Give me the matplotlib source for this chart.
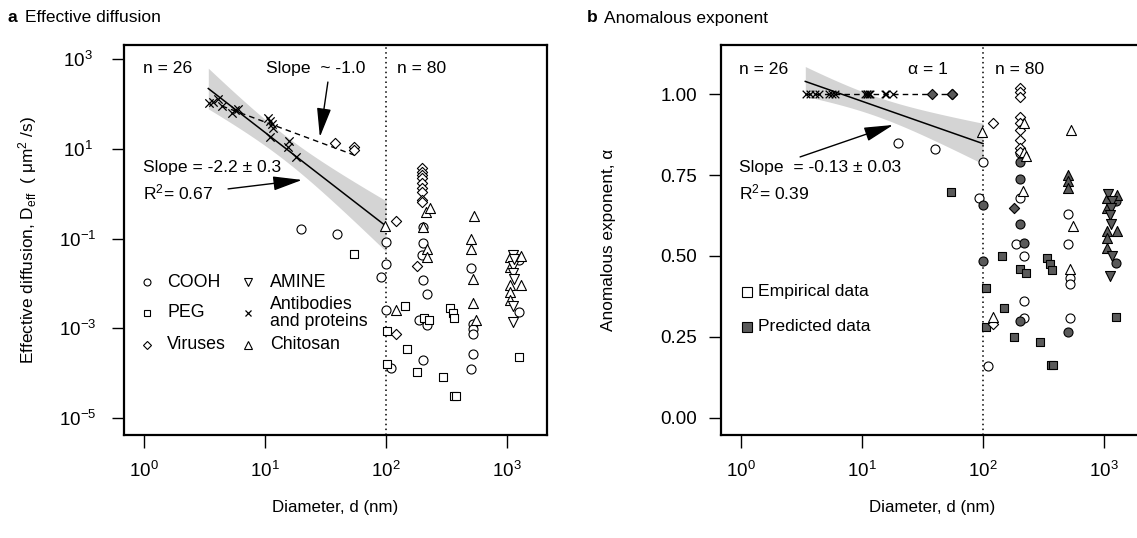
import numpy as np
import matplotlib
matplotlib.use('Agg')
import matplotlib.pyplot as plt
from matplotlib.ticker import FixedLocator, NullLocator

plt.rcParams['font.family'] = ['Liberation Sans', 'DejaVu Sans']
plt.rcParams['mathtext.fontset'] = 'custom'
plt.rcParams['mathtext.rm'] = 'Liberation Sans'
plt.rcParams['mathtext.it'] = 'Liberation Sans:italic'
plt.rcParams['mathtext.bf'] = 'Liberation Sans:bold'

# ---------------- panel a: effective diffusion (d in nm, D in um^2/s) ----------------
cooh_d = [19.9, 39.7, 100, 100, 91, 100, 109, 201, 201, 197, 201, 217, 188, 217, 201,
          501, 521, 521, 521, 521, 501, 1265, 1265]
cooh_D = [0.161, 0.126, 0.0849, 0.0269, 0.0136, 0.00252, 0.000130, 0.184, 0.0805, 0.0428,
          0.0118, 0.00575, 0.00156, 0.00117, 0.000200, 0.0227, 0.00123, 0.000984, 0.000762,
          0.000272, 0.000126, 0.0331, 0.00231]

peg_d = [54.4, 144.5, 102.5, 102.5, 148, 206, 225, 181, 338, 360, 367, 294, 367, 377, 1265]
peg_D = [0.0457, 0.00315, 0.000857, 0.000163, 0.000352, 0.00173, 0.00156, 0.000104, 0.00290,
         0.00220, 0.00170, 0.0000817, 0.0000313, 0.0000313, 0.000229]

virus_d = [37.9, 54.4, 54.4, 120, 120, 197, 197, 197, 197, 197, 197, 197, 197, 197, 181]
virus_D = [13.8, 11.2, 9.5, 0.250, 0.000762, 3.71, 3.11, 2.62, 2.21, 1.71, 1.32, 1.11, 0.724,
           0.664, 0.0243]

chito_d = [98, 121, 214, 231, 201, 219, 217, 534, 501, 501, 521, 521, 554,
           1059, 1297, 1059, 1059, 1297, 1059, 1059]
chito_D = [0.190, 0.00252, 0.397, 0.472, 0.184, 0.0574, 0.0380, 0.318, 0.0991, 0.0574, 0.0129,
           0.00367, 0.00151, 0.0393, 0.0406, 0.0234, 0.00914, 0.00914, 0.00647, 0.00423]

amine_d = [1114, 1114, 1114, 1143, 1114, 1114, 1143]
amine_D = [0.0428, 0.0243, 0.0167, 0.0123, 0.00310, 0.00138, 0.0355]

anti_d = [3.47, 3.74, 4.11, 4.39, 5.31, 5.65, 6.01, 10.6, 10.9, 11.4, 11.6, 11.0, 15.9, 15.6, 18.0]
anti_D = [105, 111, 131, 92.9, 62.8, 74.5, 78.3, 48.5, 42.3, 35.6, 29.9, 18.8, 15.1, 11.2, 6.73]

# fit for d < 100 nm (log10 D = a + b log10 d), confidence band shape
fit_a_D, fit_b_D = 3.46, -2.09
band_D = (0.28, 0.577, 1.15)        # half-width: sqrt(c0^2 + c1^2 (x - xm)^2), decades
slope1_a, slope1_b = 2.602, -1.0    # dashed "slope ~ -1" line
slope1_range = (4.4, 55)
fit_range = (3.4, 100)

# ---------------- panel b: anomalous exponent ----------------
cooh_emp_d = [20, 40, 100, 92, 109, 203, 201, 188, 219, 219, 219, 506, 506, 519, 519, 519]
cooh_emp_a = [0.850, 0.830, 0.790, 0.679, 0.158, 0.818, 0.679, 0.537, 0.499, 0.359, 0.308,
              0.628, 0.537, 0.431, 0.412, 0.308]
cooh_pre_d = [100, 100, 201, 201, 201, 219, 201, 506, 1259, 1259]
cooh_pre_a = [0.658, 0.484, 0.790, 0.738, 0.597, 0.540, 0.299, 0.263, 0.669, 0.479]

peg_pre_d = [54, 105, 148, 105, 144, 203, 228, 181, 338, 359, 371, 293, 367, 378, 1259]
peg_pre_a = [0.696, 0.402, 0.340, 0.281, 0.499, 0.458, 0.448, 0.248, 0.492, 0.474, 0.455,
             0.233, 0.161, 0.161, 0.310]

virus_emp_d = [121, 121, 201, 201, 201, 201, 201, 201, 201, 201, 201]
virus_emp_a = [0.910, 0.289, 1.019, 1.007, 0.992, 0.930, 0.910, 0.889, 0.858, 0.835, 0.822]
virus_pre_d = [38, 55, 55, 181]
virus_pre_a = [1.0, 1.0, 1.0, 0.648]

chito_emp_d = [98, 122, 217, 219, 228, 214, 533, 553, 519]
chito_emp_a = [0.882, 0.312, 0.910, 0.822, 0.810, 0.702, 0.889, 0.592, 0.458]
chito_pre_d = [506, 506, 506, 1275, 1067, 1067, 1067, 1275, 1067, 1067]
chito_pre_a = [0.751, 0.732, 0.710, 0.689, 0.679, 0.648, 0.576, 0.578, 0.554, 0.525]

amine_pre_d = [1087, 1159, 1137, 1122, 1137, 1159, 1122]
amine_pre_a = [0.691, 0.671, 0.648, 0.626, 0.599, 0.499, 0.438]

anti_a = [1.0] * len(anti_d)

fit_a_alpha, fit_b_alpha = 1.109, -0.131
band_alpha = (0.03, 0.0614, 1.1)
alpha1_range = (3.4, 55)

GRAY = '#5a5a5a'
EW = 0.8
TXT = 12.6


def style_axes(ax):
    ax.set_xscale('log')
    ax.set_xlim(10 ** -0.165, 10 ** 3.33)
    ax.xaxis.set_major_locator(FixedLocator([1, 10, 100, 1000]))
    ax.xaxis.set_minor_locator(NullLocator())
    ax.set_xticklabels(['$10^{0}$', '$10^{1}$', '$10^{2}$', '$10^{3}$'])
    for s in ax.spines.values():
        s.set_linewidth(1.6)
    ax.tick_params(axis='both', length=9, width=1.0, labelsize=13.5, direction='out')
    ax.tick_params(axis='x', pad=10)
    ax.set_xlabel('Diameter, d (nm)', fontsize=12.2, labelpad=13)
    ax.axvline(100, color='k', ls=(0, (1, 2.2)), lw=1.1, zorder=2)


def pts(ax, d, v, marker, ms, filled=False):
    if marker == 'x':
        ax.scatter(d, v, marker='x', s=ms ** 2, c='k', linewidths=0.9, zorder=4)
    else:
        ax.scatter(d, v, marker=marker, s=ms ** 2, facecolors=GRAY if filled else 'white',
                   edgecolors='k', linewidths=EW, zorder=3)


fig = plt.figure(figsize=(11.37, 5.38), dpi=100)
ax1 = fig.add_axes([124 / 1137, 1 - 435 / 538, 423 / 1137, 390 / 538])
ax2 = fig.add_axes([721 / 1137, 1 - 435 / 538, 423 / 1137, 390 / 538])

# ---------------- panel a ----------------
style_axes(ax1)
ax1.set_yscale('log')
ax1.set_ylim(10 ** -5.38, 10 ** 3.32)
ax1.yaxis.set_major_locator(FixedLocator([1e3, 1e1, 1e-1, 1e-3, 1e-5]))
ax1.yaxis.set_minor_locator(NullLocator())
ax1.set_yticklabels(['$10^{3}$', '$10^{1}$', '$10^{-1}$', '$10^{-3}$', '$10^{-5}$'])
ax1.tick_params(axis='y', pad=24)
for lab in ax1.get_yticklabels():
    lab.set_ha('center')
ax1.set_ylabel(r'Effective diffusion, D$_{\mathrm{eff}}$  ( μm$^{2}$ /s)', fontsize=12.4,
               labelpad=15)

lx = np.linspace(np.log10(fit_range[0]), np.log10(fit_range[1]), 60)
hw = np.sqrt(band_D[0] ** 2 + band_D[1] ** 2 * (lx - band_D[2]) ** 2)
mid = fit_a_D + fit_b_D * lx
ax1.fill_between(10 ** lx, 10 ** (mid - hw), 10 ** (mid + hw), color='#d4d4d4', lw=0, zorder=1)
ax1.plot(10 ** lx, 10 ** mid, color='k', lw=1.1, zorder=2)
sx = np.log10(np.array(slope1_range))
ax1.plot(10 ** sx, 10 ** (slope1_a + slope1_b * sx), color='k', lw=1.0, ls=(0, (4, 3)), zorder=2)

pts(ax1, cooh_d, cooh_D, 'o', 6.5)
pts(ax1, peg_d, peg_D, 's', 5.6)
pts(ax1, virus_d, virus_D, 'D', 5.2)
pts(ax1, chito_d, chito_D, '^', 7.2)
pts(ax1, amine_d, amine_D, 'v', 7.2)
pts(ax1, anti_d, anti_D, 'x', 6.0)

ax1.text(0.045, 0.941, 'n = 26', transform=ax1.transAxes, fontsize=TXT, va='center')
ax1.text(0.645, 0.941, 'n = 80', transform=ax1.transAxes, fontsize=TXT, va='center')
ax1.text(0.336, 0.941, 'Slope  ~ -1.0', transform=ax1.transAxes, fontsize=TXT, va='center')
ax1.text(0.045, 0.685, 'Slope = -2.2 ± 0.3', transform=ax1.transAxes, fontsize=TXT, va='center')
ax1.text(0.045, 0.621, 'R$^{2}$= 0.67', transform=ax1.transAxes, fontsize=TXT, va='center')
arrow = dict(arrowstyle='-|>,head_length=0.9,head_width=0.22', color='k', lw=1.0,
             mutation_scale=20, shrinkA=0, shrinkB=0)
ax1.annotate('', xy=(0.463, 0.764), xytext=(0.482, 0.905), xycoords='axes fraction',
             arrowprops=arrow)
ax1.annotate('', xy=(0.421, 0.654), xytext=(0.246, 0.631), xycoords='axes fraction',
             arrowprops=arrow)

# legend, two columns
legend_entries = [('o', 'COOH', 5.0), ('s', 'PEG', 4.4), ('D', 'Viruses', 4.4),
                  ('v', 'AMINE', 5.5), ('x', 'Antibodies\nand proteins', 5.0),
                  ('^', 'Chitosan', 5.5)]
col_x = [(0.054, 0.102), (0.293, 0.345)]
row_y = [0.392, 0.313, 0.231]
for i, (m, lab, ms) in enumerate(legend_entries):
    mx, tx = col_x[i // 3]
    y = row_y[i % 3]
    if m == 'x':
        ax1.plot([mx], [y], marker='x', ms=ms, color='k', mew=0.9, ls='none',
                 transform=ax1.transAxes)
    else:
        ax1.plot([mx], [y], marker=m, ms=ms, mfc='white', mec='k', mew=EW, ls='none',
                 transform=ax1.transAxes)
    ax1.text(tx, y, lab, transform=ax1.transAxes, fontsize=12.8, va='center', linespacing=0.95)

# ---------------- panel b ----------------
style_axes(ax2)
ax2.set_ylim(-0.054, 1.152)
ax2.yaxis.set_major_locator(FixedLocator([0, 0.25, 0.5, 0.75, 1.0]))
ax2.yaxis.set_minor_locator(NullLocator())
ax2.set_yticklabels(['0.00', '0.25', '0.50', '0.75', '1.00'])
ax2.tick_params(axis='y', pad=8)
ax2.set_ylabel('Anomalous exponent, α', fontsize=12.4, labelpad=32)

hw2 = np.sqrt(band_alpha[0] ** 2 + band_alpha[1] ** 2 * (lx - band_alpha[2]) ** 2)
mid2 = fit_a_alpha + fit_b_alpha * lx
ax2.fill_between(10 ** lx, mid2 - hw2, mid2 + hw2, color='#d4d4d4', lw=0, zorder=1)
ax2.plot(10 ** lx, mid2, color='k', lw=1.1, zorder=2)
ax2.plot(alpha1_range, [1.0, 1.0], color='k', lw=1.0, ls=(0, (4, 3)), zorder=2)

pts(ax2, cooh_emp_d, cooh_emp_a, 'o', 6.5)
pts(ax2, cooh_pre_d, cooh_pre_a, 'o', 6.5, True)
pts(ax2, peg_pre_d, peg_pre_a, 's', 5.6, True)
pts(ax2, virus_emp_d, virus_emp_a, 'D', 5.2)
pts(ax2, virus_pre_d, virus_pre_a, 'D', 5.2, True)
pts(ax2, chito_emp_d, chito_emp_a, '^', 7.2)
pts(ax2, chito_pre_d, chito_pre_a, '^', 7.2, True)
pts(ax2, amine_pre_d, amine_pre_a, 'v', 7.2, True)
pts(ax2, anti_d, anti_a, 'x', 5.5)

ax2.text(0.043, 0.938, 'n = 26', transform=ax2.transAxes, fontsize=TXT, va='center')
ax2.text(0.443, 0.938, 'α = 1', transform=ax2.transAxes, fontsize=TXT, va='center')
ax2.text(0.648, 0.938, 'n = 80', transform=ax2.transAxes, fontsize=TXT, va='center')
ax2.text(0.043, 0.685, 'Slope  = -0.13 ± 0.03', transform=ax2.transAxes, fontsize=TXT,
         va='center')
ax2.text(0.043, 0.621, 'R$^{2}$= 0.39', transform=ax2.transAxes, fontsize=TXT, va='center')
ax2.annotate('', xy=(0.407, 0.795), xytext=(0.187, 0.713), xycoords='axes fraction',
             arrowprops=arrow)

for (fill, lab), y in zip([('white', 'Empirical data'), (GRAY, 'Predicted data')],
                          [0.367, 0.277]):
    ax2.plot([0.061], [y], marker='s', ms=7.5, mfc=fill, mec='k', mew=EW, ls='none',
             transform=ax2.transAxes)
    ax2.text(0.087, y, lab, transform=ax2.transAxes, fontsize=12.6, va='center')

# panel titles
fig.text(8 / 1137, 1 - 18 / 538, 'a', fontsize=12.5, fontweight='bold', va='center')
fig.text(25 / 1137, 1 - 18 / 538, 'Effective diffusion', fontsize=12.5, va='center')
fig.text(587 / 1137, 1 - 18 / 538, 'b', fontsize=12.5, fontweight='bold', va='center')
fig.text(604 / 1137, 1 - 18 / 538, 'Anomalous exponent', fontsize=12.5, va='center')

fig.savefig('out.png', dpi=100, facecolor='white')
